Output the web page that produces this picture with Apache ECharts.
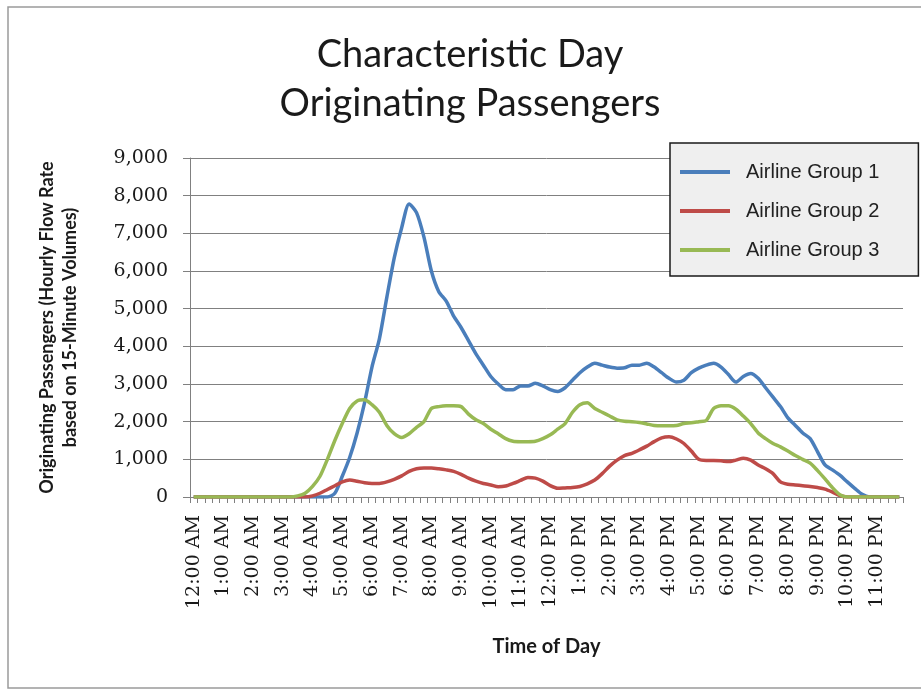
<!DOCTYPE html>
<html>
<head>
<meta charset="utf-8">
<script src="https://cdn.jsdelivr.net/npm/echarts@6/dist/echarts.min.js"></script>
<style>
  html, body { margin: 0; padding: 0; background: #ffffff; }
  #chart { width: 921px; height: 690px; }
</style>
</head>
<body>
<div id="chart"></div>
<script>
// Hour labels shown on the time axis (one every four 15-minute slots)
const hourLabels = [
  '12:00 AM', '1:00 AM', '2:00 AM', '3:00 AM', '4:00 AM', '5:00 AM',
  '6:00 AM', '7:00 AM', '8:00 AM', '9:00 AM', '10:00 AM', '11:00 AM',
  '12:00 PM', '1:00 PM', '2:00 PM', '3:00 PM', '4:00 PM', '5:00 PM',
  '6:00 PM', '7:00 PM', '8:00 PM', '9:00 PM', '10:00 PM', '11:00 PM'
];
const quarterSuffixes = [':00', ':15', ':30', ':45'];

const yTicks = [0, 1000, 2000, 3000, 4000, 5000, 6000, 7000, 8000, 9000];

// Hourly flow rate per 15-minute slot, 12:00 AM .. 11:45 PM
const airlineGroup1 = [
  0, 0, 0, 0, 0, 0, 0, 0, 0, 0,
  0, 0, 0, 0, 0, 0, 0, 0, 0, 100,
  550, 1050, 1700, 2500, 3450, 4200, 5300, 6350, 7150, 7780,
  7550, 6900, 6000, 5450, 5200, 4800, 4500, 4150, 3800, 3500,
  3200, 3000, 2850, 2850, 2950, 2950, 3020, 2950, 2850, 2800,
  2900, 3100, 3300, 3450, 3550, 3500, 3450, 3420, 3430, 3500,
  3500, 3550, 3450, 3300, 3150, 3050, 3100, 3300, 3420, 3500,
  3550, 3450, 3250, 3050, 3200, 3280, 3150, 2900, 2650, 2400,
  2100, 1900, 1700, 1550, 1200, 850, 720, 580, 400, 230,
  70, 0, 0, 0, 0, 0
];
const airlineGroup2 = [
  0, 0, 0, 0, 0, 0, 0, 0, 0, 0,
  0, 0, 0, 0, 0, 0, 30, 100, 200, 300,
  400, 450, 420, 380, 360, 360, 400, 470, 560, 680,
  750, 770, 770, 750, 720, 680, 600, 500, 420, 360,
  320, 270, 290, 360, 440, 520, 500, 420, 300, 230,
  240, 250, 280, 350, 450, 620, 820, 980, 1100, 1160,
  1250, 1350, 1470, 1570, 1600, 1540, 1420, 1220, 1000, 970,
  970, 960, 940, 980, 1030, 980, 850, 750, 620, 400,
  340, 320, 300, 280, 250, 210, 130, 40, 0, 0,
  0, 0, 0, 0, 0, 0
];
const airlineGroup3 = [
  0, 0, 0, 0, 0, 0, 0, 0, 0, 0,
  0, 0, 0, 0, 30, 100, 280, 550, 1000, 1500,
  1950, 2350, 2550, 2580, 2450, 2250, 1900, 1680, 1580, 1680,
  1850, 2000, 2350, 2400, 2420, 2420, 2400, 2200, 2050, 1950,
  1800, 1680, 1550, 1480, 1470, 1470, 1480, 1550, 1650, 1800,
  1950, 2250, 2450, 2500, 2350, 2250, 2150, 2050, 2010, 2000,
  1980, 1940, 1900, 1890, 1890, 1900, 1950, 1970, 2000, 2030,
  2350, 2420, 2420, 2330, 2150, 1950, 1700, 1550, 1420, 1330,
  1220, 1100, 1000, 900, 700, 480, 250, 60, 0, 0,
  0, 0, 0, 0, 0, 0
];

// 96 quarter-hour categories built from the hour labels
const categories = [];
hourLabels.forEach(function (h) {
  const parts = h.split(' ');
  const hh = parts[0].split(':')[0];
  quarterSuffixes.forEach(function (q) {
    categories.push(hh + q + ' ' + parts[1]);
  });
});

const chart = echarts.init(document.getElementById('chart'), null, { renderer: 'canvas' });

const gridColor = '#808080';
const serif = '"DejaVu Serif", "Liberation Serif", serif';
const sans = 'Lato, "Open Sans", sans-serif';

chart.setOption({
  backgroundColor: '#ffffff',
  animation: false,
  title: {
    text: 'Characteristic Day\nOriginating Passengers',
    left: 470,
    top: 30,
    padding: 0,
    textAlign: 'center',
    textStyle: {
      fontFamily: sans,
      fontWeight: 'normal',
      fontSize: 38,
      lineHeight: 49,
      color: '#1a1a1a'
    }
  },
  legend: {
    orient: 'vertical',
    left: 670,
    top: 143,
    padding: [19, 39, 16, 10],
    itemGap: 19,
    itemWidth: 50,
    itemHeight: 4,
    icon: 'rect',
    backgroundColor: '#efefef',
    borderColor: '#1a1a1a',
    borderWidth: 1.5,
    borderRadius: 0,
    textStyle: {
      fontFamily: '"Liberation Sans", Arial, sans-serif',
      fontSize: 20,
      lineHeight: 20,
      color: '#222222',
      padding: [0, 0, 0, 11]
    },
    data: ['Airline Group 1', 'Airline Group 2', 'Airline Group 3']
  },
  graphic: [{
    type: 'rect',
    shape: { x: 8, y: 7, width: 930, height: 681 },
    style: { fill: 'none', stroke: '#9a9a9a', lineWidth: 1.5 },
    silent: true,
    z: -1
  }],
  grid: {
    left: 190,
    right: 18,
    top: 158,
    bottom: 193,
    containLabel: false
  },
  xAxis: {
    type: 'category',
    data: categories,
    boundaryGap: true,
    name: 'Time of Day',
    nameLocation: 'middle',
    nameGap: 140,
    nameTextStyle: {
      fontFamily: sans,
      fontWeight: 'bold',
      fontSize: 20,
      color: '#1a1a1a'
    },
    axisLine: { lineStyle: { color: gridColor, width: 1 } },
    axisTick: {
      show: true,
      interval: 0,
      alignWithLabel: false,
      length: 6,
      lineStyle: { color: gridColor }
    },
    axisLabel: {
      interval: 3,
      rotate: 90,
      margin: 18,
      fontFamily: serif,
      fontSize: 19,
      color: '#1a1a1a',
      formatter: function (v, i) { return hourLabels[i / 4]; }
    },
    splitLine: { show: false }
  },
  yAxis: {
    type: 'value',
    min: yTicks[0],
    max: yTicks[yTicks.length - 1],
    interval: yTicks[1] - yTicks[0],
    name: 'Originating Passengers (Hourly Flow Rate\nbased on 15-Minute Volumes)',
    nameLocation: 'middle',
    nameRotate: 90,
    nameGap: 108,
    nameTextStyle: {
      fontFamily: sans,
      fontWeight: 'bold',
      fontSize: 18,
      lineHeight: 23,
      color: '#1a1a1a'
    },
    axisLine: { show: true, lineStyle: { color: gridColor, width: 1 } },
    axisTick: { show: true, inside: false, length: 7, lineStyle: { color: gridColor } },
    axisLabel: {
      margin: 22,
      fontFamily: serif,
      fontSize: 19,
      color: '#1a1a1a',
      formatter: function (v) { return v.toLocaleString('en-US'); }
    },
    splitLine: { show: true, lineStyle: { color: gridColor, width: 1 } }
  },
  series: [
    {
      name: 'Airline Group 1',
      type: 'line',
      data: airlineGroup1,
      symbol: 'none',
      smooth: 0.25,
      color: '#4a7ebb',
      lineStyle: { width: 3.5, color: '#4a7ebb' }
    },
    {
      name: 'Airline Group 2',
      type: 'line',
      data: airlineGroup2,
      symbol: 'none',
      smooth: 0.25,
      color: '#be4b48',
      lineStyle: { width: 3.5, color: '#be4b48' }
    },
    {
      name: 'Airline Group 3',
      type: 'line',
      data: airlineGroup3,
      symbol: 'none',
      smooth: 0.25,
      color: '#98b954',
      lineStyle: { width: 3.5, color: '#98b954' }
    }
  ]
});
</script>
</body>
</html>
